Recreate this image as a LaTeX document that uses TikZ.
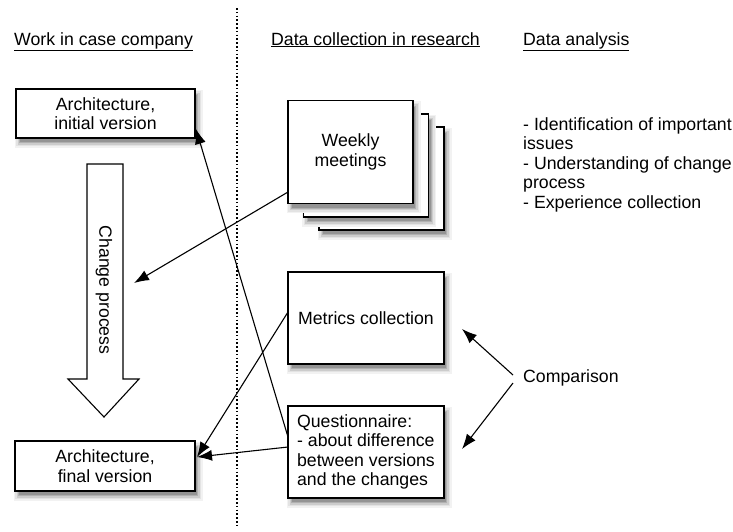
\documentclass[tikz,border=0pt]{standalone}
\usepackage{fontspec}
\setmainfont{Liberation Sans}
\usetikzlibrary{arrows.meta,calc}
\newcommand{\softshadowat}[4]{%
  \foreach \e/\c in {4.5/5, 3/11, 1.5/20, 0/31, -1/42}{%
    \fill[black!\c] ({#1-#3/2+3-\e},{#2-#4/2+5-\e}) rectangle ({#1+#3/2+3+\e},{#2+#4/2+5+\e});}}
\tikzset{
  box/.style={draw, line width=1.1pt, fill=white, inner sep=2pt},
  conn/.style={line width=1.1pt, -{Latex[length=15pt,width=11pt]}},
  head/.style={anchor=base west, inner sep=0pt},
  txt/.style={font=\fontsize{17.7}{19.5}\selectfont}
}
\begin{document}
\begin{tikzpicture}[x=1pt,y=-1pt,txt]
\useasboundingbox (0,0) rectangle (733,531);
% headings
\node[head] (h1) at (14,45) {\underline{Work in case company}};
\node[head] (h2) at (271,45) {\underline{Data collection in research}};
\node[head] (h3) at (523,45) {\underline{Data analysis}};
% divider
\coordinate (dtop) at (237,8);
\coordinate (dbot) at (237,526);
\draw[line width=1.6pt, dash pattern=on 1.6pt off 2.2pt] (dtop) -- (dbot);
% architecture boxes
\softshadowat{105.5}{113.5}{179}{49}
\node[box, minimum width=179pt, minimum height=49pt, align=center] (init) at (105.5,113.5) {Architecture,\\initial version};
\softshadowat{105}{466}{180}{50}
\node[box, minimum width=180pt, minimum height=50pt, align=center] (final) at (105,466) {Architecture,\\final version};
% change process arrow
\draw[line width=1.1pt, fill=white] (87,164) -- (123,164) -- (123,379) -- (139,379) -- (104,417) -- (68,379) -- (87,379) -- cycle;
\node[rotate=-90] (cp) at (104,290) {Change process};
% weekly meetings stack
\softshadowat{381.5}{178.5}{125}{103}
\node[box, minimum width=125pt, minimum height=103pt] (wk3) at (381.5,178.5) {};
\softshadowat{366}{165.5}{125}{103}
\node[box, minimum width=125pt, minimum height=103pt] (wk2) at (366,165.5) {};
\softshadowat{350.5}{152}{125}{103}
\node[box, minimum width=125pt, minimum height=103pt, align=center] (wk) at (350.5,152) {Weekly\\meetings};
% metrics & questionnaire
\softshadowat{366}{318}{156}{92}
\node[box, minimum width=156pt, minimum height=92pt] (met) at (366,318) {Metrics collection};
\softshadowat{366}{452}{156}{92}
\node[box, minimum width=156pt, minimum height=92pt, align=left, inner xsep=5pt] (que) at (366,452) {Questionnaire:\\- about difference\\between versions\\and the changes};
% data analysis list
\node[anchor=north west, align=left, inner sep=0pt] (da) at (523,117) {- Identification of important\\issues\\- Understanding of change\\process\\- Experience collection};
% comparison
\node[anchor=west, inner sep=0pt] (comp) at (523,378) {Comparison};
% connector points
\coordinate (wkout) at (288,192);
\coordinate (cptgt) at (134,283);
\coordinate (initin) at (196,129);
\coordinate (queout1) at (288,437);
\coordinate (metout) at (288,312);
\coordinate (finin) at (197,457);
\coordinate (queout2) at (288,447);
\coordinate (c1) at ($(comp.west)+(-10,-3)$);
\coordinate (c2) at ($(comp.west)+(-10,5)$);
\coordinate (mettgt) at (462,329);
\coordinate (quetgt) at (462,449);
% connectors
\draw[conn] (wkout) -- (cptgt);
\draw[conn] (queout1) -- (initin);
\draw[conn] (metout) -- (finin);
\draw[conn] (queout2) -- (finin);
\draw[conn] (c1) -- (mettgt);
\draw[conn] (c2) -- (quetgt);
\end{tikzpicture}
\end{document}
